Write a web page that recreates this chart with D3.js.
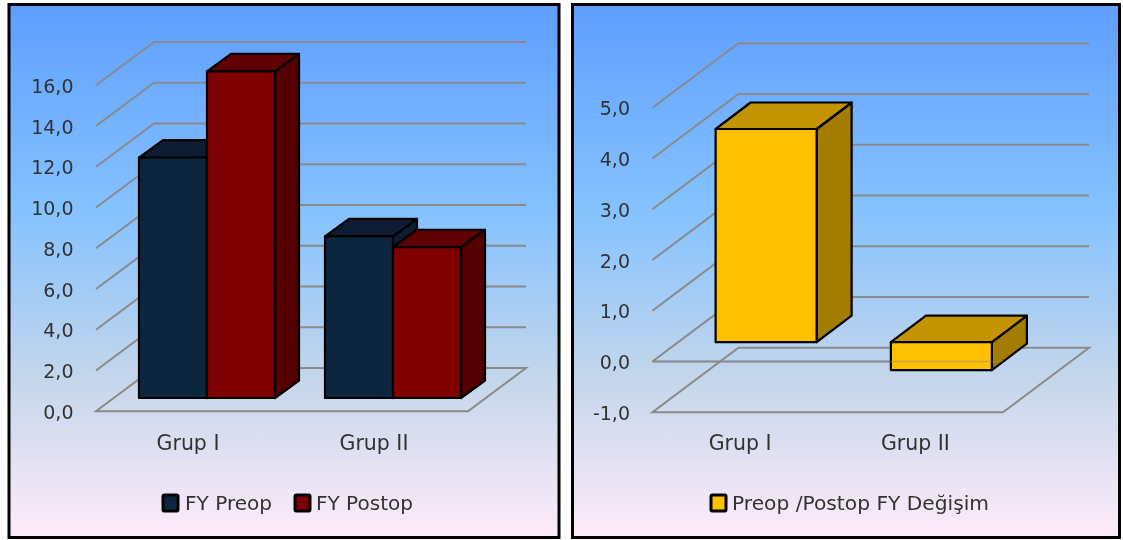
<!DOCTYPE html>
<html>
<head>
<meta charset="utf-8">
<script src="https://cdn.jsdelivr.net/npm/d3@7/dist/d3.min.js"></script>
<style>
html,body{margin:0;padding:0;background:#fff;}
svg{display:block;}
text{font-family:"DejaVu Sans",sans-serif;}
</style>
</head>
<body>
<svg id="chart" width="1123" height="540"></svg>
<script>
const categories = ["Grup I", "Grup II"];
const leftSeriesNames = ["FY Preop", "FY Postop"];
const preopValues = [11.8, 7.93];
const postopValues = [16.03, 7.4];
const leftTicks = [0, 2, 4, 6, 8, 10, 12, 14, 16];
const rightSeriesNames = ["Preop /Postop FY Değişim"];
const changeValues = [4.2, -0.55];
const rightTicks = [-1, 0, 1, 2, 3, 4, 5];

const palette = {
  navy: {front: "#10253f", top: "#0c1c30", side: "#0c1c2f"},
  red: {front: "#7f0000", top: "#600000", side: "#540000"},
  gold: {front: "#ffc000", top: "#c49400", side: "#a37b00"}
};
const gradStops = [[0, "#5e9eff"], [0.39, "#85c2ff"], [0.70, "#c4d6eb"], [1, "#ffebfa"]];
const fmt = v => v.toFixed(1).replace(".", ",");
const svg = d3.select("#chart");
const defs = svg.append("defs");
const grad = defs.append("linearGradient").attr("id", "bg").attr("x1", 0).attr("y1", 0).attr("x2", 0).attr("y2", 1);
gradStops.forEach(s => grad.append("stop").attr("offset", s[0]).attr("stop-color", s[1]));
defs.append("filter").attr("id", "soft").attr("filterUnits", "userSpaceOnUse")
  .attr("x", 0).attr("y", 0).attr("width", 1123).attr("height", 540)
  .append("feGaussianBlur").attr("stdDeviation", 0.6);

const root = svg.append("g").attr("filter", "url(#soft)");
const line = d3.line();
const GRID = "#8a8a8a";

function panel(c) {
  const g = root.append("g");
  g.append("rect").attr("x", c.px).attr("y", c.py).attr("width", c.pw).attr("height", c.ph)
    .attr("fill", "url(#bg)").attr("stroke", "#000").attr("stroke-width", 3);

  const x = d3.scaleBand().domain(categories).range([c.x0, c.x1]);
  const y = d3.scaleLinear().domain(c.domain).range([c.yFloor, c.yTop]);
  const w = c.wall, [lo] = c.domain;

  const gridG = g.append("g").attr("fill", "none").attr("stroke", GRID).attr("stroke-width", 2);
  c.ticks.forEach(t => {
    const yy = y(t);
    if (t === lo) {
      gridG.append("path").attr("stroke-linejoin", "miter").attr("d", line([
        [c.x0, yy], [c.x1, yy], [c.x1 + w[0], yy + w[1]], [c.x0 + w[0], yy + w[1]]
      ]) + "Z");
    } else {
      gridG.append("path").attr("d", line([[c.x0, yy], [c.x0 + w[0], yy + w[1]], [c.x1 + w[0], yy + w[1]]]));
    }
  });
  if (c.zeroFront) {
    gridG.append("path").attr("d", line([[c.x0, y(0)], [c.x1, y(0)]]));
  }

  const barsG = g.append("g").attr("stroke", "#000").attr("stroke-width", 2.2).attr("stroke-linejoin", "round");
  categories.forEach((cat, i) => {
    const cx = x(cat) + x.bandwidth() / 2 + c.off[0];
    c.series.forEach((s, k) => {
      const left = cx - c.barW * c.series.length / 2 + k * c.barW;
      const right = left + c.barW;
      const yTopBar = Math.min(y(s.values[i]), y(0)) + c.off[1];
      const yBot = Math.max(y(s.values[i]), y(0)) + c.off[1];
      const d = c.depth;
      barsG.append("path").attr("fill", s.color.side).attr("d", line([
        [right, yTopBar], [right + d[0], yTopBar + d[1]], [right + d[0], yBot + d[1]], [right, yBot]
      ]) + "Z");
      barsG.append("path").attr("fill", s.color.top).attr("d", line([
        [left, yTopBar], [left + d[0], yTopBar + d[1]], [right + d[0], yTopBar + d[1]], [right, yTopBar]
      ]) + "Z");
      barsG.append("path").attr("fill", s.color.front).attr("d", line([
        [left, yTopBar], [right, yTopBar], [right, yBot], [left, yBot]
      ]) + "Z");
    });
  });
  if (c.zeroFront) {
    g.append("path").attr("fill", "none").attr("stroke", GRID).attr("stroke-width", 1.5).attr("stroke-opacity", 0.45)
      .attr("d", line([[c.x0, y(0)], [c.x1, y(0)]]));
  }

  const yAxis = d3.axisLeft(y).tickValues(c.ticks).tickFormat(fmt).tickSize(0).tickPadding(0);
  const ya = g.append("g").attr("transform", `translate(${c.tickX},1)`).call(yAxis);
  ya.select(".domain").remove();
  ya.selectAll("text").attr("font-size", 19).attr("font-family", '"DejaVu Sans",sans-serif').attr("fill", "#333");

  const xAxis = d3.axisBottom(x).tickSize(0).tickPadding(0);
  const xa = g.append("g").attr("transform", `translate(${c.labelDx},${c.labelY})`).call(xAxis);
  xa.select(".domain").remove();
  xa.selectAll("text").attr("font-size", 20.5).attr("font-family", '"DejaVu Sans",sans-serif').attr("fill", "#333");

  c.series.forEach((s, k) => {
    const lg = c.legend[k];
    g.append("rect").attr("x", lg.sx).attr("y", c.legendY).attr("width", 15).attr("height", 16).attr("rx", 1.5)
      .attr("fill", s.color.front).attr("stroke", "#000").attr("stroke-width", 3);
    g.append("text").attr("x", lg.tx).attr("y", c.legendY + 14.5).attr("font-size", 19.5).attr("fill", "#333")
      .attr("textLength", lg.tw).attr("lengthAdjust", "spacingAndGlyphs").text(s.name);
  });
}

panel({
  px: 9, py: 4.5, pw: 550, ph: 533,
  x0: 96, x1: 468, yFloor: 411.3, yTop: 85.3, domain: [0, 16], ticks: leftTicks,
  wall: [58, -43.3], off: [18, -13.3], depth: [24, -17.5], barW: 68,
  tickX: 73.5, labelY: 435, labelDx: -1,
  series: [
    {name: leftSeriesNames[0], values: preopValues, color: palette.navy},
    {name: leftSeriesNames[1], values: postopValues, color: palette.red}
  ],
  legend: [{sx: 163, tx: 185, tw: 87}, {sx: 295, tx: 316, tw: 97}],
  legendY: 495
});
panel({
  px: 572.5, py: 4.5, pw: 547, ph: 533,
  x0: 652.5, x1: 1003, yFloor: 412.2, yTop: 107.7, domain: [-1, 5], ticks: rightTicks,
  wall: [86, -64.5], off: [26, -19.3], depth: [35, -26.5], barW: 101,
  tickX: 630, labelY: 435, labelDx: 0, zeroFront: true,
  series: [
    {name: rightSeriesNames[0], values: changeValues, color: palette.gold}
  ],
  legend: [{sx: 711, tx: 732, tw: 257}],
  legendY: 495
});
</script>
</body>
</html>
